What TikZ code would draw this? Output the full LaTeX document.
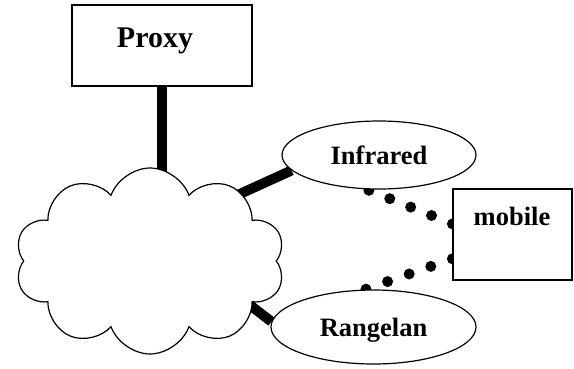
\documentclass[tikz,border=0pt]{standalone}
\usepackage{fontspec}
\setmainfont{Liberation Serif}
\usetikzlibrary{shapes,backgrounds}

\begin{document}
\begin{tikzpicture}[x=1pt,y=-1pt,
    box/.style={draw,fill=white,line width=1.2pt,inner sep=0pt},
    ell/.style={ellipse,box,text depth=0pt,font=\bfseries\fontsize{26.5}{30}\selectfont},
    lbl/.style={anchor=base,inner sep=0pt,font=\bfseries\fontsize{26.5}{30}\selectfont},
    link/.style={line width=10pt},
    radio/.style={line width=11pt,line cap=round,dash pattern=on 0pt off #1}]
  %\draw[help lines] (0,0) grid (574,368);
  \useasboundingbox (0,0) rectangle (574,368);

  \node[box,minimum width=180pt,minimum height=81pt] (proxy) at (162,45.5) {};
  \node[lbl,font=\bfseries\fontsize{30}{34}\selectfont] (proxytext) at (155,47) {Proxy};

  \node[box,cloud,cloud puffs=10,cloud puff arc=140,cloud ignores aspect,
        minimum width=270pt,minimum height=186pt] (net) at (150,261) {};

  \node[ell,minimum width=194pt,minimum height=68pt] (infrared) at (379,155) {Infrared};
  \node[ell,minimum width=205pt,minimum height=74pt] (rangelan) at (373.5,327) {Rangelan};

  \node[box,minimum width=119pt,minimum height=91pt] (mobile) at (512.5,234.5) {};
  \node[lbl] (mobiletext) at (512,225) {mobile};

  \coordinate (hubA) at (220,203);
  \coordinate (hubB) at (220,282);

  \begin{scope}[on background layer]
    \draw[link] (proxy.south) -- (proxy.south |- net.center);
    \draw[link] (hubA) -- (infrared.190);
    \draw[link] (hubB) -- (rangelan.177);

    % radio links, dots from the mobile outwards
    \draw[radio=22.5pt] (mobile.170) -- (infrared.250);
    \draw[radio=22.9pt] (mobile.202) -- (rangelan.103);
  \end{scope}
\end{tikzpicture}
\end{document}
